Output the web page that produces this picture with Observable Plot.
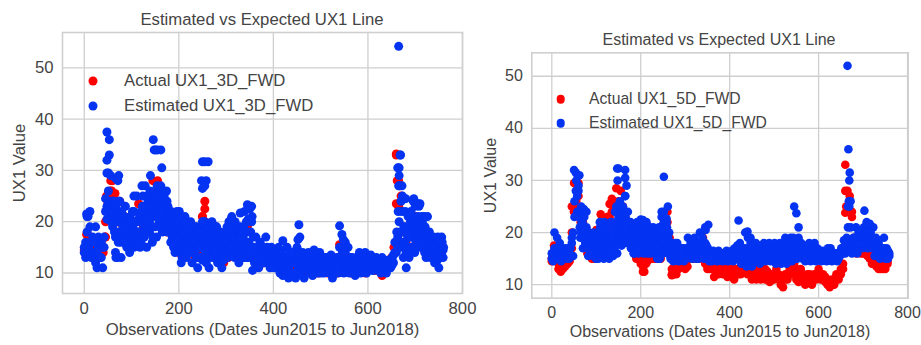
<!DOCTYPE html>
<html>
<head>
<meta charset="utf-8">
<script src="https://cdn.jsdelivr.net/npm/d3@7"></script>
<script src="https://cdn.jsdelivr.net/npm/@observablehq/plot@0.6"></script>
<style>
html,body{margin:0;padding:0;background:#fff;}
#page{position:relative;width:921px;height:345px;overflow:hidden;font-family:"Liberation Sans",Arial,sans-serif;color:#444;}
#page svg{position:absolute;top:0;background:transparent;}
.title{position:absolute;white-space:nowrap;transform:translateX(-50%);}
.lg{position:absolute;white-space:nowrap;line-height:1;transform:translateY(-50%);}
.ld{position:absolute;border-radius:50%;transform:translate(-50%,-50%);}
</style>
</head>
<body>
<div id="page"></div>
<script>
const actual3Step = 5;
const actual3 = [
  14.5,17.5,14,16,13,15,14,16,14,17,23.5,26,28,25.5,20,24,19.5,21,17,19,
  20,18,16,23.5,20,19,21,22,25,28,22,28,24,21,19,18,20,16,17,15,
  14,16,13,15,14,17,15,13,16,14,21,20,15,16,14,13,15,14,13,12,
  15,13,16,14,16,17,14,13,16,19,15,13,14,13,11.5,13,12,14,12,13,
  14,12,11,13,12,11,13,10,12,11,13,11,10,12,11,13,11,10,12,10,
  11,13,11,10,12,13,11,10,15.5,12,13,11,12,10,12,11,13,11,12,10,
  12,11,13,10.5,12,11,9.5,11,12,11,13,15,33,28,25,18,16,18,15,17,
  21,16,19,15,17,15,14,16,13,15,14,14
];
const actual3ExtraObs = [660,665,662,660,255,255,250,47,45,44,7,52,56,58];
const actual3ExtraVal = [23.5,23,28,33.2,24,22.5,21,25,20,17,17.5,25,28,26];

const estimated3Step = 3;
const estimated3 = [
  15,13,21,14,22,13,17,14,19,11,15,13,16,11,15,24.5,20.5,29.5,21,24,
  19,24,14,22,18,24,13,21,17,23,16,20,14,19,22,15,18,25,16,21,
  16,23,19,27,15,22,18,25,16,21,26,17,23,20,27,18,24,21,26,18,
  22,16,20,18,14,21,17,22,14,19,16,21,13,18,15,20,12,17,14,19,
  11,16,19,13,17,20,14,18,11,16,20,13,17,19,12,15,18,11,15,13,
  17,13,20,14,21,16,13,18,15,12,19,14,17,22,13,16,20,14,23,15,
  12,17,14,11,16,13,15,12,17,13,14,11,15,12,14,11,13,15,10,14,
  9.5,13,11,15,9,13,10,14,12,9,15,11,17,10,14,9,13,11,14,10,
  13,9.5,14.5,11,13,10,14,11,12,10,13,11,12,10,13.5,9,12,10,13,11,
  15,11,14,10,16,12,13,10,13,11,12,9.5,13,11,14,10,13,11,14,10,
  13,11,13.5,10.5,12,11,13,10.5,12,10,12,11,12,10,11,12.5,11,13,12,16,
  14,17,30.5,15,22,13,19,11,17,13,20,15,24,14,19,16,23,15,21,17,
  16,13,21,15,13,17,14,12,16,14,11,15,17,13
];
const estimated3Second = [
  14,16,18,15,19,16,14,16,12,14,17,15,13,15,17,22,23,26,23,20,
  22,20,17,20,16,20,16,18,16,19,15,18,17,16,18,20,17,20,18,17,
  20,18,22,21,19,24,20,19,22,24,19,22,21,25,23,21,19,23,20,23,
  19,20,17,15,18,16,20,15,17,13,18,15,16,14,17,15,14,15,16,13,
  15,13,15,17,15,16,12,15,17,14,18,15,13,16,15,13,14,12.5,13,14,
  14,16,18,16,15,18,17,15,14,16,14,16,13,18,15,13,16,13,20,13,
  14,15,12.5,14,13,15,12,14,13,15,12,13,12,14,11,12.5,11.5,12,12.5,11,
  11.5,10.5,13,12,11,14,12,12,10,13,12,13,14,12,11.5,12,11,12.5,12,13,
  11,12,12,13,11,12,12.5,10,11,12,11,13,10.5,11.5,12,11,10.5,12,11.5,10,
  13,13,12,12,14,11,11,12,11,13,10.5,11,12,12.5,12,12,11.5,12.5,12,12,
  11.5,12,12,12,10.5,12.5,11.5,12,11,11,13,10.5,11,11.5,12.5,11,12,11.5,13.5,14,
  16,15,20,18,18,16,16,14,14,15,17,18,17,20,16,18,19,17,18,19,
  14,15,17,14,15,14,15.5,16,13,12.5,14,13,14,14.5
];
const estimated3BandStart = 60;
const estimated3Band = [
  24,18,23,21,24,17,22,19,21,16,20,18,21,16,19,17,20,16,18,15,
  22,25,17,23,25,20,26,23,17,25,22,27,24,19,26,22,25,19,24,21,
  21,22,18,21,19,22,17,20,16,18,20,16,19,17,15,18,16,17,19,18,
  18,15,18,12.5,18,14,19,17,13,19,16,18,14,19,17,16,13,15,12.5,15,
  16,18,15,20,17,19,20,15,19,16,17,15,19,15,20,18,14,18,21,17
];
const estimated3TailStart = 660;
const estimated3Tail = [
  18,22,27,24,25,19,22,18,21,17,22,19,21,18,16,21,18,17,20,16,
  19,17,14,18,16,15,17,15,14,17,16,14,16,15
];
const estimated3ExtraObs = [48,53,53,48,48,56,66,73,71,62,67,70,105,105,122,140,146,148,155,162,164,151,248,258,262,250,255,255,250,252,302,311,330,345,350,347,356,454,452,540,545,548,558,663,668,669,665,666,672,680,697,700,706,710,719,665,5,8,250,420,205];
const estimated3ExtraVal = [37.5,36,33,32,29.5,29,28.5,29,28,24,13,13,25,22,27,29,36,34,34,34,30.5,34,28,28,31.7,31.7,27,31.7,26.5,20,19,20.5,21.7,23.3,22.5,20.5,10.5,19.4,16.5,19.2,17.5,16.5,15,30.5,33,33,27,29,27,24.5,24.5,23,23.5,23.5,21,54.2,21.5,21,20,16.3,12];

const actual5Step = 5;
const actual5 = [
  14.5,17.5,15.5,14,12.5,14,13.5,14,14.5,20,25,24,29.5,23,22,20,19,15.5,17,16,
  20.5,18,23.5,20,22,21,25.5,26.5,25,28.5,24,28,25,23,22,20,19,17,16,17,
  14,12.5,15,14.5,16,15,16,15,17,15,21.5,20,24,18,12,13,12,13,15,13.5,
  14,13.5,16,15,15,16,15.5,15,19,14,13,14,13,11.5,14,12,13,12,14,11.5,
  13,12,11,13,12,13,12.5,14,13,12,11,12,11,13,11,12,11,12.5,10.5,12,
  11,13,11,10,9.5,12,11,13,12,14,11,10.5,13,11,10,12,11,10,12,11,
  13,11,12,10.5,11,9.5,11,10,12,11,12,13,33,28,27,24,19,17,16.5,16,
  18,17,15.5,16,15,14,13.5,14,13,14,13,14.5
];
const actual5Second = [
  15,16,15,13,13,13,14,14,15,17,24,26,27,22,20,17,16,17,15,15,
  19,17,21,19,20,23,23,24,26,25,26,25,24,21,20,18,17,16,15,15,
  15,13.5,14,16,15,16,15,16,18,16,20,21,22,19,13,12,14,14,14,14,
  13,15,15,16,16,15,16,16,17,15,14,13,14,13,13,13,14,13,13,13,
  12,13,12,12,13,12,13,13,12,13,12,13,12,12,12,13,13,11,12,11,
  12,12,12,11,11,11,12,12,13,13,13,12,12,12,11,11,12,11,11,12,
  12,12,11,11.5,10,10.5,10,11,11,12,13,14,28,25,24,23,17,16,17,17,
  16,16,16,15,14,15,14.5,13,14,13,14,14
];
const actual5ExtraObs = [660,662,50,45,50,208,212,270,275];
const actual5ExtraVal = [23.8,25,24,25,29.5,12.5,14,11.8,13];

const estimated5Step = 3;
const estimated5 = [
  15,14.5,20,15,19,15,18,14.5,16,15,17,15,16,15,17,19,15.5,26,31.5,24,
  28,21,25,19,21,18,24,17,20,16,19,15.5,18,15,17,15,19,16,18,15,
  19,16,18,15,17,20,15.5,19,22,16,21,26,18,24,20,27,18,24,19,22,
  17,21,16,19,22,16,20,17,21,16,19,22,16,20,16,18,21,16,20,15,
  17,15,21,16,24,17,22,16,20,15,18,14.5,17,15,18,14.5,16,15,17,14.5,
  17,15,19,15.5,18,15,17,19,15,18,15,20,16,19,15,21,16,17,14.5,16,
  14.5,16.5,15,16,14.5,16.5,15,16,14.5,16,15,16.5,14.5,16,15,16.5,14.5,17,15.5,17.5,
  15,18,14,17,15,20,13.5,19,15,18,13.5,17,14.5,18,15,17,14,17.5,15,18,
  14.5,17.5,15,18,14.5,17,15.5,18,14,17,15,18,14,17.5,15,19,14,18,15,19,
  14.5,19,15.5,18,15,19,16,18,15,17.5,14.5,17,15,18,14.5,17,15.5,18,14.5,17,
  15,16.5,14.5,16.5,15,16,14.5,17,15,17,14.5,16,15,16,14.5,16,15.5,17,16,18.5,
  16,19,25,17,26,16,19,17,21,16,20,17,19,17,21,18,22,17,21,18,
  17,21,15.5,19,16,18,15,17,15.5,19,15,17,15,16
];
const estimated5Second = [
  16,16,17,17,16.5,17,16,16,15,16,15.5,16,17,16,15.5,18,20,23,28,27,
  24,24,20,22,20,20,21,19,18,18,17,17,16,16,16,17,16,18,16.5,17,
  17,18,16,16,18,16,18,17,20,19,23,22,21,22,23,21,21,20,22,20,
  19,18,18,17,19,18,18,19,17,19,17,18,18,17,18,19.5,18,19,18,17,
  19,18,19,19,22,20,18,18,17,17,16,16,15.5,16,16,16,17,16,15.5,16,
  16,16,17,17,16.5,17,16,17,16.5,16.5,17,18,18,17,17,18,17.5,15.5,15.5,15,
  15.5,15,16,15,15.5,15,16,15,15.5,15,15.5,15,15.5,15,16,15.5,15.5,15.5,16.5,16,
  16.5,16,15.5,15.5,16.5,17,15,16,17,16,15,15.5,16,16,16.5,15.5,15.5,16,16.5,16.5,
  16,16,16.5,16.5,16,15.5,16.5,16.5,15.5,15.5,16.5,16.5,15.5,16,16.5,17,15.5,16,16.5,17,
  16,17,17,16.5,16.5,17,17,16.5,16.5,16,15.5,15.5,16.5,16.5,15.5,15.5,16.5,16.5,15.5,15.5,
  16,15.5,15.5,15.5,16,15,15.5,15.5,16,16,15.5,15,15.5,15,15.5,15,16,16,17,17,
  18,18,21,18,21,18,18,19,19,18,18,19,18,18,19,20,20,19,19,20,
  19,19,17,17,17.5,16.5,16.5,16,17,17,16,16,16.5,15.5
];
const estimated5BandStart = 60;
const estimated5Band = [
  23,19,22,17,23,19,18,15.5,17,19,16,20,17,19,20,17,21,19,20,22,
  21,19,20,18,22,19,21,24,25,18,19,24,20,25,19,23,20,22,18,17,
  20,16,20,21,17,20,19,21,19,20,21,17,19,21,20,17,20,17,19,19,
  21,19,23,18,20,18,21,19,18,16,16,17,18,16.5,17,15,16,17,16,15
];
const estimated5ExtraObs = [665,667,670,669,669,668,703,252,247,261,258,200,205,420,545,550,555,147,150,165,165,148,168,165,50,58,62,60,55,72,108,352,346,440,157,447,715];
const estimated5ExtraVal = [52,36,31.5,30,25,26,24.2,30.7,24,25,22.7,22.5,22.4,22.3,25,23.7,21,32.3,32.3,32,30.5,30,29,27,32,31,31,29,30,24.5,22,21.5,20.5,20.2,17.5,19,21.7];

const xTicks = [0,200,400,600,800];
const yTicks = [10,20,30,40,50];
const titleText = "Estimated vs Expected UX1 Line";
const xLabel = "Observations (Dates Jun2015 to Jun2018)";
const yLabel = "UX1 Value";
const RED = "#ff0000", BLUE = "#0433f2", INK = "#444444", GRID = "#cfcfcf";

function rows(step, lists, extraObs, extraVal, segments = []) {
  const out = [];
  lists.forEach(values => values.forEach((v, i) => out.push({o: i * step, v})));
  segments.forEach(([start, values]) => values.forEach((v, i) => out.push({o: start + i * step + 1, v})));
  extraObs.forEach((o, i) => out.push({o, v: extraVal[i]}));
  return out;
}

function chart(c) {
  const page = document.getElementById("page");
  const svg = Plot.plot({
    width: c.width, height: 345,
    marginLeft: c.ml, marginRight: c.mr, marginTop: c.mt, marginBottom: c.mb,
    x: {domain: c.xd}, y: {domain: c.yd},
    style: {fontFamily: '"Liberation Sans",Arial,sans-serif', fontSize: c.font + "px", color: INK, background: "transparent"},
    marks: [
      Plot.gridX(xTicks, {stroke: GRID, strokeOpacity: 1, strokeWidth: 1.3}),
      Plot.gridY(yTicks, {stroke: GRID, strokeOpacity: 1, strokeWidth: 1.3}),
      Plot.frame({stroke: GRID, strokeWidth: 1.6}),
      Plot.dot(c.red, {x: "o", y: "v", r: c.r, fill: RED, stroke: "none"}),
      Plot.dot(c.blue, {x: "o", y: "v", r: c.r, fill: BLUE, stroke: "none"}),
      Plot.axisX(xTicks, {tickSize: 0, tickPadding: c.xPad, fill: INK, label: xLabel, labelAnchor: "center", labelArrow: "none", labelOffset: c.xOff, fontSize: c.font}),
      Plot.axisY(yTicks, {tickSize: 0, tickPadding: 9, fill: INK, label: yLabel, labelAnchor: "center", labelArrow: "none", labelOffset: c.yOff, fontSize: c.font})
    ]
  });
  svg.style.left = c.left + "px";
  page.appendChild(svg);

  const t = document.createElement("div");
  t.className = "title"; t.textContent = titleText;
  t.style.left = c.titleX + "px"; t.style.top = c.titleY + "px"; t.style.fontSize = c.titleSize + "px";
  page.appendChild(t);

  c.legend.forEach(l => {
    const d = document.createElement("div");
    d.className = "ld";
    d.style.cssText = `left:${c.lgDot}px;top:${l.y}px;width:${2*c.r}px;height:${2*c.r}px;background:${l.color}`;
    page.appendChild(d);
    const s = document.createElement("div");
    s.className = "lg"; s.textContent = l.text;
    s.style.left = c.lgText + "px"; s.style.top = l.y + "px"; s.style.fontSize = c.lgSize + "px";
    page.appendChild(s);
  });
}

chart({
  left: 0, width: 485, ml: 62, mr: 23, mt: 32, mb: 52,
  xd: [-46, 800], yd: [6, 56.9], xPad: 9, xOff: 41, yOff: 49, font: 16.7, r: 4.5,
  red: rows(actual3Step, [actual3], actual3ExtraObs, actual3ExtraVal),
  blue: rows(estimated3Step, [estimated3, estimated3Second], estimated3ExtraObs, estimated3ExtraVal,
    [[estimated3BandStart, estimated3Band], [estimated3TailStart, estimated3Tail]]),
  titleX: 262, titleY: 10, titleSize: 16.7,
  lgDot: 93, lgText: 124, lgSize: 16.7,
  legend: [
    {y: 81, color: RED, text: "Actual UX1_3D_FWD"},
    {y: 106, color: BLUE, text: "Estimated UX1_3D_FWD"}
  ]
});
chart({
  left: 470, width: 451, ml: 61.3, mr: 13.3, mt: 52.3, mb: 47.3,
  xd: [-45, 801.5], yd: [7.4, 54.5], xPad: 8, xOff: 39, yOff: 47, font: 16, r: 4.3,
  red: rows(actual5Step, [actual5, actual5Second], actual5ExtraObs, actual5ExtraVal),
  blue: rows(estimated5Step, [estimated5, estimated5Second], estimated5ExtraObs, estimated5ExtraVal,
    [[estimated5BandStart, estimated5Band]]),
  titleX: 719, titleY: 31, titleSize: 16,
  lgDot: 560.7, lgText: 589, lgSize: 15.7,
  legend: [
    {y: 99, color: RED, text: "Actual UX1_5D_FWD"},
    {y: 123, color: BLUE, text: "Estimated UX1_5D_FWD"}
  ]
});
</script>
</body>
</html>
